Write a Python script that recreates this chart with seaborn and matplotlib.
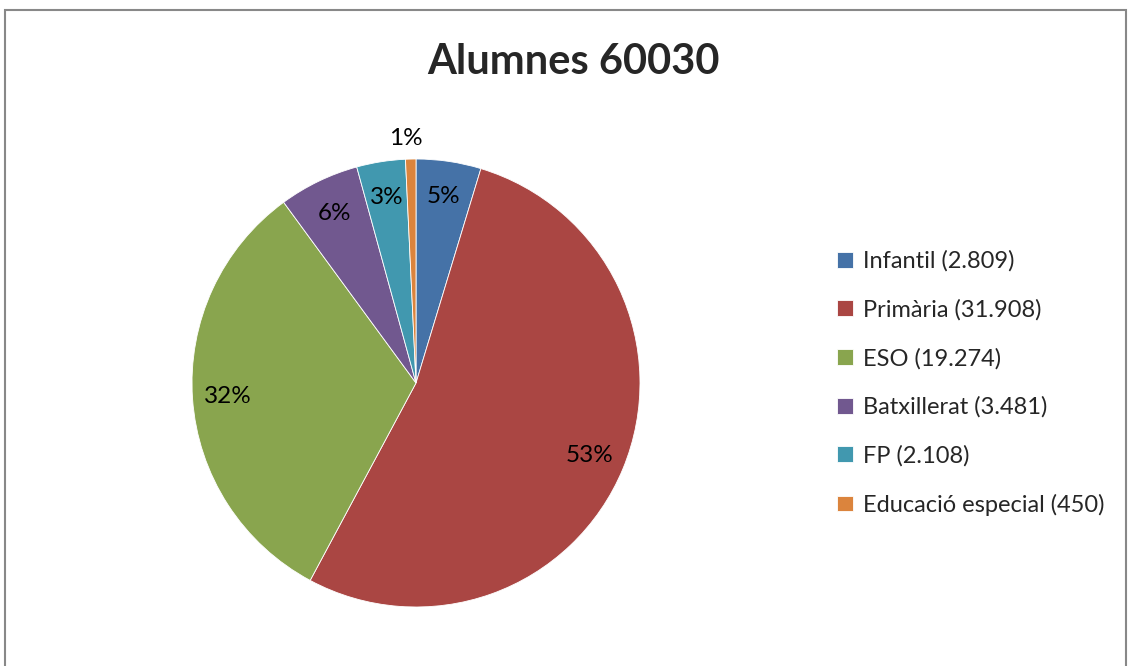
import matplotlib
matplotlib.use("Agg")
import matplotlib.pyplot as plt
import seaborn as sns
from matplotlib.patches import Rectangle

sns.set_theme(style="white")
plt.rcParams['font.family'] = ['Lato', 'DejaVu Sans']

# data
categories = ["Infantil", "Primària", "ESO", "Batxillerat", "FP", "Educació especial"]
legend_counts = ["2.809", "31.908", "19.274", "3.481", "2.108", "450"]
values = [2809, 31908, 19274, 3481, 2108, 450]
pct_labels = ["5%", "53%", "32%", "6%", "3%", "1%"]
colors = ["#4572A7", "#AA4643", "#89A54E", "#71588F", "#4198AF", "#DB843D"]

fig = plt.figure(figsize=(11.29, 6.66), dpi=100)
ax = fig.add_axes([192 / 1129, (666 - 607) / 666, 448 / 1129, 448 / 666])

wedges, texts, autotexts = ax.pie(
    values, colors=colors, startangle=90, counterclock=False,
    autopct="%1.0f%%", pctdistance=0.84,
    wedgeprops=dict(edgecolor="white", linewidth=0.6),
    textprops=dict(fontsize=17.5, color="black"))
for t, lab in zip(autotexts, pct_labels):
    t.set_text(lab)
# the small slice gets its label outside
x, y = autotexts[-1].get_position()
autotexts[-1].set_position((x / 0.84 * 1.09 - 0.02, y / 0.84 * 1.09))
ax.set_xlim(-1, 1)
ax.set_ylim(-1, 1)
ax.set_aspect("equal")

fig.text(573 / 1129, 1 - 62 / 666, "Alumnes 60030", ha="center", va="center",
         fontsize=30, fontweight="bold")

leg = fig.legend(wedges, [f"{c} ({n})" for c, n in zip(categories, legend_counts)],
                 loc="upper left", bbox_to_anchor=(828 / 1129, 1 - 241 / 666),
                 frameon=False, fontsize=17, handlelength=0.65, handleheight=0.65,
                 handletextpad=0.45, labelspacing=1.15, borderaxespad=0)

fig.patches.append(Rectangle((5 / 1129, -0.01), 1121 / 1129, 1 - 10 / 666 + 0.01,
                             transform=fig.transFigure, fill=False,
                             edgecolor="#888888", linewidth=1.5))

fig.savefig("out.png", dpi=100)
